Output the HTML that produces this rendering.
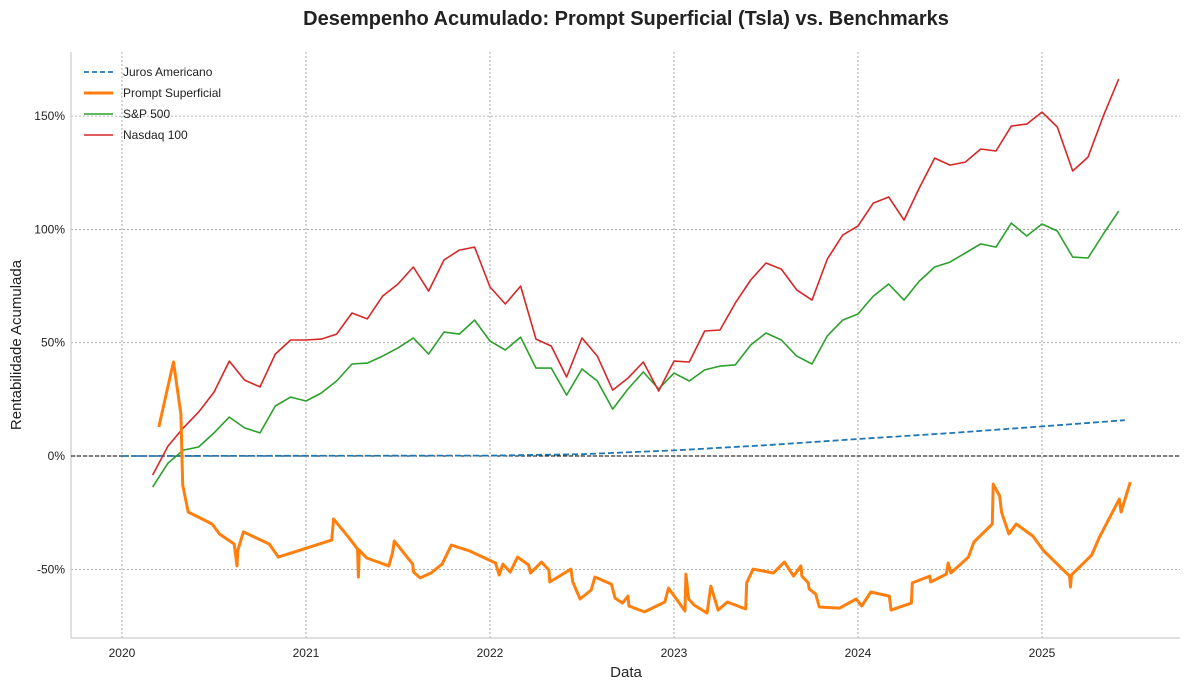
<!DOCTYPE html>
<html><head><meta charset="utf-8">
<style>
body{margin:0;background:#fff;font-family:"Liberation Sans",Arial,sans-serif;}
svg text{font-family:"Liberation Sans",Arial,sans-serif;}
</style></head>
<body>
<svg id="chart" width="1189" height="689" viewBox="0 0 1189 689" xmlns="http://www.w3.org/2000/svg"></svg>
<script>
// ---- data ----
const yearTicks = [2020, 2021, 2022, 2023, 2024, 2025];
const pctTicks = [-50, 0, 50, 100, 150];
const monthlyStart = 2020 + 2/12;
const nasdaqValues = [-8.4,4.4,12.4,19.4,28.2,41.9,33.5,30.5,45.0,51.2,51.2,51.6,53.8,63.1,60.5,70.6,75.9,83.4,72.8,86.5,90.9,92.2,74.6,67.1,75.0,51.6,48.5,34.9,52.1,44.1,29.1,34.4,41.5,28.7,41.9,41.5,55.2,55.6,67.5,77.7,85.2,82.5,73.3,68.8,86.9,97.5,101.5,111.6,114.3,104.1,118.3,131.5,128.4,129.7,135.5,134.6,145.6,146.5,151.8,145.2,125.8,131.9,150.0,166.4];
const spValues = [-13.7,-3.1,2.6,4.0,10.2,17.2,12.4,10.2,22.1,26.0,24.3,27.8,33.1,40.6,41.0,44.1,47.7,52.1,45.0,54.7,53.8,60.0,50.7,46.8,52.5,38.8,38.8,26.9,38.4,33.1,20.7,29.6,37.1,29.6,36.6,33.1,38.0,39.7,40.2,49.0,54.3,51.2,44.1,40.6,53.0,60.0,62.7,70.6,75.9,68.8,77.2,83.4,85.6,89.6,93.6,92.2,102.8,97.1,102.4,99.3,87.8,87.4,98.0,108.1];
const ratesDates = [2020,2021,2022,2022.5,2023,2023.5,2024,2024.5,2025,2025.45];
const ratesValues = [0,0.1,0.2,0.8,2.5,4.8,7.5,10.1,13.1,15.8];
const promptDates = [2020.20,2020.28,2020.32,2020.33,2020.36,2020.49,2020.53,2020.61,2020.625,2020.63,2020.66,2020.80,2020.85,2021.14,2021.15,2021.23,2021.28,2021.285,2021.29,2021.33,2021.45,2021.47,2021.48,2021.58,2021.585,2021.62,2021.68,2021.74,2021.79,2021.89,2022.03,2022.05,2022.07,2022.11,2022.15,2022.21,2022.22,2022.28,2022.32,2022.325,2022.44,2022.45,2022.49,2022.55,2022.57,2022.66,2022.68,2022.72,2022.75,2022.755,2022.84,2022.95,2022.97,2023.06,2023.065,2023.08,2023.11,2023.18,2023.20,2023.24,2023.29,2023.39,2023.395,2023.43,2023.54,2023.60,2023.65,2023.69,2023.695,2023.73,2023.735,2023.77,2023.79,2023.90,2023.99,2024.02,2024.07,2024.17,2024.18,2024.29,2024.295,2024.39,2024.395,2024.48,2024.49,2024.505,2024.60,2024.63,2024.73,2024.735,2024.77,2024.78,2024.82,2024.86,2024.95,2025.01,2025.15,2025.155,2025.16,2025.27,2025.31,2025.42,2025.43,2025.48];
const promptValues = [12.8,41.5,18.5,-12.8,-24.7,-30.0,-34.4,-38.8,-48.5,-41.5,-33.5,-38.8,-44.6,-37.1,-27.8,-35.7,-41.0,-53.4,-41.5,-45.0,-48.5,-42.8,-37.5,-47.7,-51.2,-53.8,-51.6,-47.7,-39.3,-41.9,-47.2,-52.5,-47.7,-51.2,-44.6,-48.1,-51.6,-46.8,-50.3,-55.6,-49.9,-55.6,-63.1,-59.1,-53.4,-56.5,-62.7,-64.9,-61.8,-66.2,-68.8,-64.4,-58.3,-68.4,-52.1,-63.1,-65.8,-69.3,-57.4,-68.0,-64.4,-67.5,-56.0,-49.9,-51.6,-46.8,-53.0,-48.5,-53.0,-56.0,-58.7,-60.9,-66.6,-67.1,-63.1,-66.2,-60.0,-61.8,-68.0,-64.9,-56.0,-53.0,-55.6,-52.1,-47.2,-51.6,-44.6,-38.0,-30.0,-12.4,-17.7,-24.7,-34.4,-30.0,-35.3,-41.9,-53.0,-57.8,-52.5,-43.7,-36.2,-19.0,-24.7,-11.5];

// ---- axes ----
const L=71,R=1180,T=52,B=638;
const xMin=2019.723,xMax=2025.75,yMin=-80.3,yMax=178.3;
const X=t=>L+(t-xMin)/(xMax-xMin)*(R-L);
const Y=v=>B-(v-yMin)/(yMax-yMin)*(B-T);
const NS="http://www.w3.org/2000/svg";
const svg=document.getElementById('chart');
function mk(tag,attrs,parent){const e=document.createElementNS(NS,tag);for(const k in attrs)e.setAttribute(k,attrs[k]);(parent||svg).appendChild(e);return e;}

const grid=mk('g',{});


yearTicks.forEach(t=>{mk('line',{x1:X(t),x2:X(t),y1:T,y2:B,stroke:'#999','stroke-width':0.8,'stroke-dasharray':'2,2'},grid);});
pctTicks.forEach(v=>{mk('line',{x1:L,x2:R,y1:Y(v),y2:Y(v),stroke:'#999','stroke-width':0.8,'stroke-dasharray':'2,2'},grid);});

const spines=mk('g',{});


mk('line',{x1:L,x2:L,y1:T,y2:B,stroke:'#ccc','stroke-width':1.2},spines);
mk('line',{x1:L,x2:R,y1:B,y2:B,stroke:'#ccc','stroke-width':1.2},spines);

const xt=mk('g',{'font-size':12,fill:'#222','text-anchor':'middle'});


yearTicks.forEach(t=>{const e=mk('text',{x:X(t),y:B+19},xt);e.textContent=t;});
const yt=mk('g',{'font-size':12,fill:'#222','text-anchor':'end'});


pctTicks.forEach(v=>{const e=mk('text',{x:L-6,y:Y(v)+4},yt);e.textContent=v+'%';});

// zero line
const zl=mk('line',{x1:L,x2:R,y1:Y(0),y2:Y(0),stroke:'#000','stroke-width':1,'stroke-dasharray':'4,2'});



function series(ts,vs,color,w,dash,name){
  const d=ts.map((t,i)=>(i?'L':'M')+X(t).toFixed(1)+','+Y(vs[i]).toFixed(1)).join('');
  const p=mk('path',{d:d,fill:'none',stroke:color,'stroke-width':w,'stroke-linejoin':'round'});
  if(dash)p.setAttribute('stroke-dasharray',dash);
  
  
}
const monthly=nasdaqValues.map((_,i)=>monthlyStart+i/12);
series(ratesDates,ratesValues,'#1f77b4',1.8,'6,3','line-juros-americano');
series(monthly,spValues,'#2ca02c',1.6,null,'line-sp500');
series(monthly,nasdaqValues,'#d62728',1.6,null,'line-nasdaq100');
series(promptDates,promptValues,'#ff7f0e',3,null,'line-prompt-superficial');

// legend
const lg=mk('g',{'font-size':12,fill:'#222'});


const items=[['Juros Americano','#1f77b4',1.8,'5,3'],['Prompt Superficial','#ff7f0e',3,null],['S&P 500','#2ca02c',1.6,null],['Nasdaq 100','#d62728',1.6,null]];
items.forEach((it,i)=>{
  const y=72+i*21;
  const g=mk('g',{},lg);
  
  
  const l=mk('line',{x1:84,x2:113,y1:y,y2:y,stroke:it[1],'stroke-width':it[2]},g);
  if(it[3])l.setAttribute('stroke-dasharray',it[3]);
  const t=mk('text',{x:123,y:y+4},g);t.textContent=it[0];
});

const title=mk('text',{x:626,y:25,'font-size':20,'font-weight':'bold','text-anchor':'middle',fill:'#222'});
title.textContent='Desempenho Acumulado: Prompt Superficial (Tsla) vs. Benchmarks';


const xl=mk('text',{x:626,y:677,'font-size':15,'text-anchor':'middle',fill:'#222'});
xl.textContent='Data';


const yl=mk('text',{x:21,y:345,'font-size':15,'text-anchor':'middle',fill:'#222',transform:'rotate(-90 21 345)'});
yl.textContent='Rentabilidade Acumulada';


</script>
</body></html>
